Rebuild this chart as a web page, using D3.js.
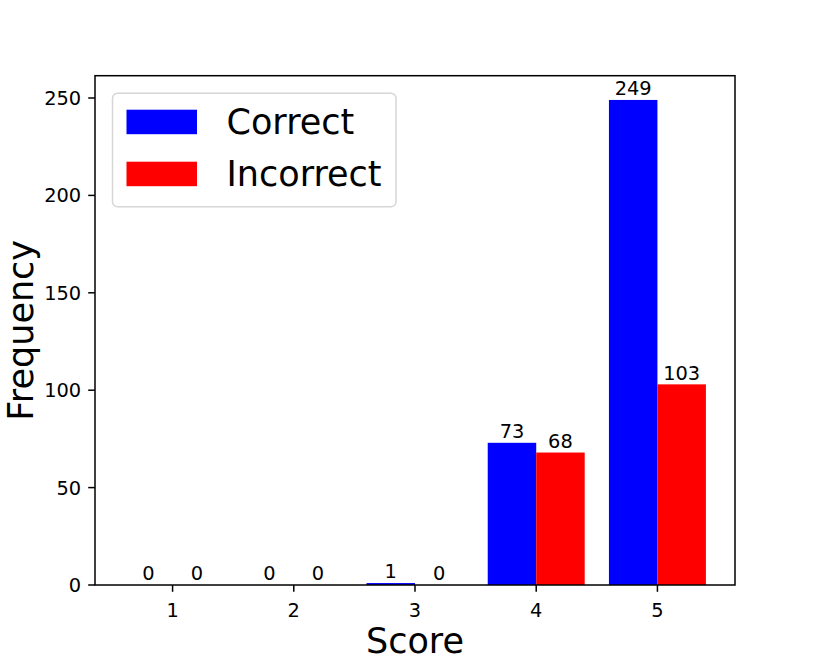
<!DOCTYPE html>
<html>
<head>
<meta charset="utf-8">
<script src="https://cdn.jsdelivr.net/npm/d3@7"></script>
<style>
  body { margin: 0; background: #fff; }
  text { font-family: "DejaVu Sans", sans-serif; fill: #000; }
</style>
</head>
<body>
<div id="chart-area"></div>
<script>
// data
const scores = [1, 2, 3, 4, 5]
const correct = [0, 0, 1, 73, 249]
const incorrect = [0, 0, 0, 68, 103]
const yTicks = [0, 50, 100, 150, 200, 250]
const seriesNames = ["Correct", "Incorrect"]
const seriesColors = ["#0000ff", "#ff0000"]

const W = 830, H = 662
const MARGIN = { LEFT: 95, RIGHT: 95, TOP: 75.7, BOTTOM: 77 }
const WIDTH = W - MARGIN.LEFT - MARGIN.RIGHT
const HEIGHT = H - MARGIN.TOP - MARGIN.BOTTOM
const BAR_W = 0.4
const TICK = 6.8

const svg = d3.select("#chart-area").append("svg")
  .attr("width", W)
  .attr("height", H)

const g = svg.append("g")
  .attr("transform", `translate(${MARGIN.LEFT}, ${MARGIN.TOP})`)

// scales (matplotlib style 5% margins)
const xMin = d3.min(scores) - BAR_W, xMax = d3.max(scores) + BAR_W
const xPad = (xMax - xMin) * 0.05
const x = d3.scaleLinear()
  .domain([xMin - xPad, xMax + xPad])
  .range([0, WIDTH])
const yMax = d3.max(correct.concat(incorrect)) * 1.05
const y = d3.scaleLinear()
  .domain([0, yMax])
  .range([HEIGHT, 0])

// bars + value labels
const series = [correct, incorrect]
series.forEach((vals, si) => {
  const offset = si === 0 ? -BAR_W : 0
  const rows = scores.map((s, i) => ({ s, v: vals[i] }))

  g.selectAll(".bar-" + si)
    .data(rows)
    .enter().append("rect")
    .attr("x", d => x(d.s + offset))
    .attr("width", x(BAR_W) - x(0))
    .attr("y", d => y(d.v))
    .attr("height", d => y(0) - y(d.v))
    .attr("fill", seriesColors[si])

  g.selectAll(".lbl-" + si)
    .data(rows)
    .enter().append("text")
    .attr("x", d => x(d.s + offset + BAR_W / 2))
    .attr("y", d => y(d.v) - 4.6)
    .attr("text-anchor", "middle")
    .attr("font-size", "19.4px")
    .text(d => d.v)
})

// frame
g.append("rect")
  .attr("width", WIDTH)
  .attr("height", HEIGHT)
  .attr("fill", "none")
  .attr("stroke", "#000")
  .attr("stroke-width", 1.5)

// x axis
const xAxis = g.append("g").attr("transform", `translate(0, ${HEIGHT})`)
scores.forEach(s => {
  xAxis.append("line")
    .attr("x1", x(s)).attr("x2", x(s))
    .attr("y1", 0).attr("y2", TICK)
    .attr("stroke", "#000").attr("stroke-width", 1.5)
  xAxis.append("text")
    .attr("x", x(s)).attr("y", 31.5)
    .attr("text-anchor", "middle")
    .attr("font-size", "19.4px")
    .text(s)
})

// y axis
const yAxis = g.append("g")
yTicks.forEach(t => {
  yAxis.append("line")
    .attr("x1", -TICK).attr("x2", 0)
    .attr("y1", y(t)).attr("y2", y(t))
    .attr("stroke", "#000").attr("stroke-width", 1.5)
  yAxis.append("text")
    .attr("x", -TICK - 7)
    .attr("y", y(t))
    .attr("dy", "0.36em")
    .attr("text-anchor", "end")
    .attr("font-size", "19.4px")
    .text(t)
})

// axis labels
svg.append("text")
  .attr("x", MARGIN.LEFT + WIDTH / 2)
  .attr("y", 653)
  .attr("text-anchor", "middle")
  .attr("font-size", "35px")
  .text("Score")
svg.append("text")
  .attr("transform", `translate(33, ${MARGIN.TOP + HEIGHT / 2}) rotate(-90)`)
  .attr("text-anchor", "middle")
  .attr("font-size", "35px")
  .text("Frequency")

// legend
const legend = g.append("g")
  .attr("transform", "translate(17.5, 17.5)")
legend.append("rect")
  .attr("width", 283.5)
  .attr("height", 113.5)
  .attr("rx", 5)
  .attr("fill", "#fff")
  .attr("fill-opacity", 0.8)
  .attr("stroke", "#d6d6d6")
  .attr("stroke-width", 1.5)
seriesNames.forEach((name, i) => {
  const row = legend.append("g")
    .attr("transform", `translate(14, ${16.5 + i * 52})`)
  row.append("rect")
    .attr("width", 70.5)
    .attr("height", 24.5)
    .attr("fill", seriesColors[i])
  row.append("text")
    .attr("x", 100)
    .attr("y", 24.5)
    .attr("font-size", "35px")
    .text(name)
})
</script>
</body>
</html>
